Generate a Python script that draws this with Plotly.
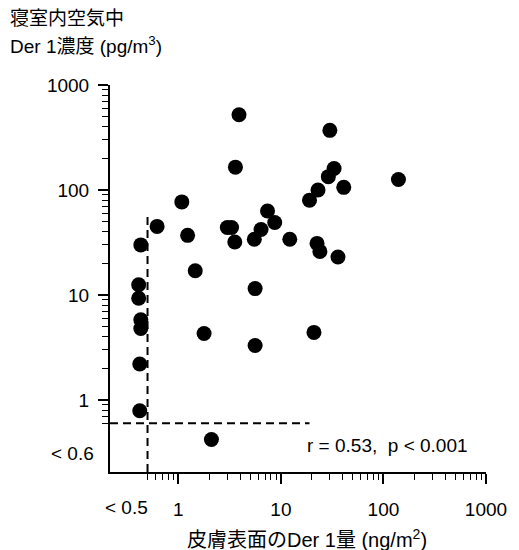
import math
import plotly.graph_objects as go

# ---- data ----
# below detection limits plotted at nominal positions (<0.5 on x, <0.6 on y)
skin_der1 = [0.43, 0.41, 0.41, 0.43, 0.43, 0.42, 0.42,
             0.62, 1.08, 1.23, 1.46, 1.78, 2.1, 3.9, 3.6, 3.0, 3.3, 3.55,
             5.5, 6.4, 7.4, 8.7, 5.6, 5.6, 12.2, 21, 19, 23, 30, 33, 29,
             41, 140, 22.5, 24, 36]
air_der1 = [30, 12.5, 9.3, 5.8, 4.8, 2.2, 0.79,
            45, 77, 37, 17, 4.3, 0.42, 520, 165, 44, 44, 32,
            34, 42, 63, 49, 11.5, 3.3, 34, 4.4, 80, 100, 370, 160, 134,
            106, 126, 31, 26, 23]

x_major_ticks = [1, 10, 100, 1000]
x_major_text = ["1", "10", "100", "1000"]
y_major_ticks = [1, 10, 100, 1000]
y_major_text = ["1", "10", "100", "1000"]
x_minor_ticks = [0.5, 0.6, 0.7, 0.8, 0.9] + [m * d for d in (1, 10, 100) for m in range(2, 10)]
y_minor_ticks = [0.6, 0.7, 0.8, 0.9] + [m * d for d in (1, 10, 100) for m in range(2, 10)]

x_detect = 0.5
y_detect = 0.6
x_range = [-0.667, 3]
y_range = [-0.686, 3]

FONT = "Arial, Liberation Sans, Noto Sans CJK JP, sans-serif"
FS = 19

fig = go.Figure()

# detection limit dashed lines
fig.add_trace(go.Scatter(x=[x_detect, x_detect], y=[10 ** y_range[0], 60], mode="lines",
                         line=dict(color="black", width=2, dash="8px,5px"),
                         hoverinfo="skip", showlegend=False))
fig.add_trace(go.Scatter(x=[10 ** x_range[0], 19], y=[y_detect, y_detect], mode="lines",
                         line=dict(color="black", width=2, dash="8px,5px"),
                         hoverinfo="skip", showlegend=False))

fig.add_trace(go.Scatter(x=skin_der1, y=air_der1, mode="markers",
                         marker=dict(color="black", size=15, line=dict(width=0)),
                         showlegend=False))

axis_common = dict(
    type="log", showline=True, linecolor="black", linewidth=2,
    showgrid=False, zeroline=False, ticks="outside", ticklen=10, tickwidth=1.5,
    tickcolor="black", tickfont=dict(family=FONT, size=FS, color="black"),
    mirror=False,
)

fig.update_xaxes(**axis_common, range=x_range, tickmode="array",
                 tickvals=x_major_ticks, ticktext=x_major_text, ticklabelstandoff=9,
                 minor=dict(tickmode="array", tickvals=x_minor_ticks, ticks="outside",
                            ticklen=6, tickwidth=1.2, tickcolor="black", showgrid=False))
fig.update_yaxes(**axis_common, range=y_range, tickmode="array",
                 tickvals=y_major_ticks, ticktext=y_major_text, ticklabelstandoff=5,
                 minor=dict(tickmode="array", tickvals=y_minor_ticks, ticks="outside",
                            ticklen=6, tickwidth=1.2, tickcolor="black", showgrid=False))

annots = [
    dict(text="寝室内空気中", xref="paper", yref="paper", x=0, y=1, xshift=-102, yshift=67,
         xanchor="left", yanchor="middle", showarrow=False,
         font=dict(family=FONT, size=FS, color="black")),
    dict(text="Der 1濃度 (pg/m<sup>3</sup>)", xref="paper", yref="paper", x=0, y=1,
         xshift=-102, yshift=40, xanchor="left", yanchor="middle", showarrow=False,
         font=dict(family=FONT, size=FS, color="black")),
    dict(text="皮膚表面のDer 1量 (ng/m<sup>2</sup>)", xref="paper", yref="paper", x=0.523, y=0,
         yshift=-66, xanchor="center", yanchor="middle", showarrow=False,
         font=dict(family=FONT, size=20, color="black")),
    dict(text="< 0.5", xref="x", yref="paper", x=math.log10(0.31), y=0, yshift=-35,
         xanchor="center", yanchor="middle", showarrow=False,
         font=dict(family=FONT, size=FS, color="black")),
    dict(text="< 0.6", xref="paper", yref="y", x=0, y=-0.505, xshift=-14,
         xanchor="right", yanchor="middle", showarrow=False,
         font=dict(family=FONT, size=FS, color="black")),
    dict(text="r = 0.53,  p < 0.001", xref="x", yref="y", x=1.231, y=-0.429,
         xanchor="left", yanchor="middle", showarrow=False,
         font=dict(family=FONT, size=FS, color="black")),
]

# page body has an 8px margin, so the figure is sized/offset to compensate
fig.update_layout(
    width=511, height=542,
    margin=dict(l=102, r=25, t=77, b=78),
    paper_bgcolor="white", plot_bgcolor="white",
    annotations=annots, showlegend=False,
)

fig.write_html("out.html")
